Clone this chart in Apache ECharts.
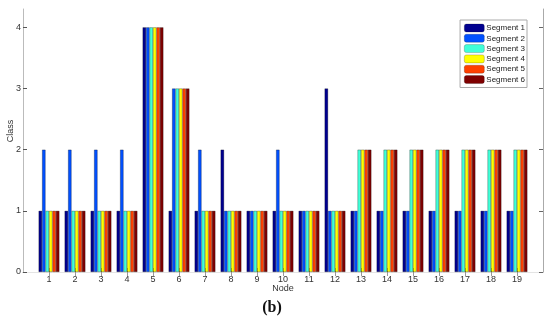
<!DOCTYPE html>
<html>
<head>
<meta charset="utf-8">
<script src="https://cdn.jsdelivr.net/npm/echarts@6/dist/echarts.min.js"></script>
<style>
html,body{margin:0;padding:0;background:#fff;}
#chart{width:550px;height:321px;}
</style>
</head>
<body>
<div id="chart"></div>
<script>
var nodes = ['1','2','3','4','5','6','7','8','9','10','11','12','13','14','15','16','17','18','19'];
var seg1 = [1,1,1,1,4,1,1,2,1,1,1,3,1,1,1,1,1,1,1];
var seg2 = [2,2,2,2,4,3,2,1,1,2,1,1,1,1,1,1,1,1,1];
var seg3 = [1,1,1,1,4,3,1,1,1,1,1,1,2,2,2,2,2,2,2];
var seg4 = [1,1,1,1,4,3,1,1,1,1,1,1,2,2,2,2,2,2,2];
var seg5 = [1,1,1,1,4,3,1,1,1,1,1,1,2,2,2,2,2,2,2];
var seg6 = [1,1,1,1,4,3,1,1,1,1,1,1,2,2,2,2,2,2,2];
var segNames = ['Segment 1','Segment 2','Segment 3','Segment 4','Segment 5','Segment 6'];
var segColors = ['#00008F','#0050FF','#40FFD8','#FFFF00','#FF4000','#7F0000'];
var yTicks = [0,1,2,3,4];

var allSegs = [seg1,seg2,seg3,seg4,seg5,seg6];
// pad with empty categories so the axis runs 0..20 like the original
var cats = [''].concat(nodes).concat(['']);
function pad(a){ return [null].concat(a).concat([null]); }

var chart = echarts.init(document.getElementById('chart'));
var series = allSegs.map(function(s, i){
  return {
    name: segNames[i],
    type: 'bar',
    data: pad(s),
    barGap: '0%',
    barCategoryGap: '20%',
    itemStyle: {color: segColors[i], borderColor: 'rgba(0,0,0,0.55)', borderWidth: 0.5},
    emphasis: {disabled: true}
  };
});

var tickInt = function(idx){ return idx > 0 && idx < cats.length - 1; };

chart.setOption({
  animation: false,
  backgroundColor: '#fff',
  grid: {left: 23, right: 7, top: 9, bottom: 49, containLabel: false, outerBoundsMode: 'none'},
  legend: {
    show: true,
    right: 23, top: 20,
    orient: 'vertical',
    itemWidth: 20, itemHeight: 8, itemGap: 0.3,
    padding: [3, 2, 3, 4],
    borderColor: '#aaa', borderWidth: 1, borderRadius: 0,
    backgroundColor: '#fff',
    textStyle: {fontFamily: 'Liberation Sans, Arial', fontSize: 8, lineHeight: 10, color: '#222', padding: [0,0,0,-3]},
    itemStyle: {borderColor: 'rgba(0,0,0,0.4)', borderWidth: 0.5},
    data: segNames
  },
  xAxis: [{
    type: 'category',
    data: cats,
    boundaryGap: false,
    axisLine: {show: true, onZero: false, lineStyle: {color: '#999', width: 1}},
    axisTick: {show: true, inside: true, length: 4, interval: tickInt, lineStyle: {color: '#333'}},
    axisLabel: {fontFamily: 'Liberation Sans, Arial', fontSize: 9, color: '#333', margin: 3, interval: 0},
    splitLine: {show: false}
  }, {
    type: 'category',
    data: cats,
    boundaryGap: false,
    position: 'top',
    axisLine: {show: true, lineStyle: {color: '#e4e4e4'}},
    axisTick: {show: true, inside: true, length: 4, interval: tickInt, lineStyle: {color: '#999'}},
    axisLabel: {show: false},
    splitLine: {show: false}
  }],
  yAxis: [{
    type: 'value',
    min: 0, max: 4.3,
    axisLine: {show: true, lineStyle: {color: '#bbb'}},
    axisTick: {show: true, inside: true, length: 4, customValues: yTicks, lineStyle: {color: '#555'}},
    axisLabel: {fontFamily: 'Liberation Sans, Arial', fontSize: 9, color: '#333', margin: 2, customValues: yTicks},
    splitLine: {show: false}
  }, {
    type: 'value',
    min: 0, max: 4.3,
    position: 'right',
    axisLine: {show: true, lineStyle: {color: '#aaa'}},
    axisTick: {show: true, inside: true, length: 4, customValues: yTicks, lineStyle: {color: '#666'}},
    axisLabel: {show: false},
    splitLine: {show: false}
  }],
  graphic: [{
    type: 'text',
    x: 11, y: 131,
    rotation: Math.PI / 2,
    style: {text: 'Class', font: '9px "Liberation Sans", Arial', fill: '#333', align: 'center', verticalAlign: 'middle'}
  }, {
    type: 'text',
    x: 283, y: 289,
    style: {text: 'Node', font: '9px "Liberation Sans", Arial', fill: '#333', align: 'center', verticalAlign: 'middle'}
  }, {
    type: 'text',
    x: 272, y: 308,
    style: {text: '(b)', font: 'bold 16px "Liberation Serif", "DejaVu Serif", serif', fill: '#111', align: 'center', verticalAlign: 'middle'}
  }],
  series: series
});
</script>
</body>
</html>
